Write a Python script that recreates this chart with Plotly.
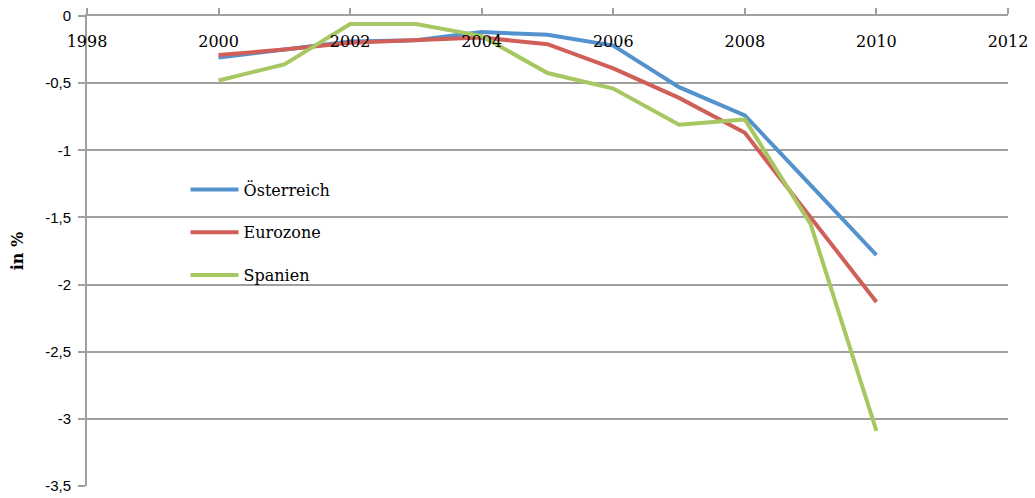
import plotly.graph_objects as go

# Jahreswerte 2000-2010
years = [2000, 2001, 2002, 2003, 2004, 2005, 2006, 2007, 2008, 2009, 2010]
oesterreich = [-0.31, -0.25, -0.19, -0.18, -0.12, -0.14, -0.22, -0.53, -0.74, -1.26, -1.78]
eurozone = [-0.29, -0.25, -0.20, -0.18, -0.16, -0.21, -0.39, -0.61, -0.87, -1.50, -2.13]
spanien = [-0.48, -0.36, -0.06, -0.06, -0.15, -0.425, -0.54, -0.81, -0.77, -1.55, -3.09]

series_names = ["Österreich", "Eurozone", "Spanien"]
series_values = [oesterreich, eurozone, spanien]
series_colors = ["#5492CD", "#D05F58", "#A6C761"]

x_ticks = [1998, 2000, 2002, 2004, 2006, 2008, 2010, 2012]
y_ticks = [0, -0.5, -1, -1.5, -2, -2.5, -3, -3.5]
y_tick_text = ["0", "-0,5", "-1", "-1,5", "-2", "-2,5", "-3", "-3,5"]

SERIF = "DejaVu Serif"
SANS = "Liberation Sans"
GRID = "#A0A0A0"

fig = go.Figure()
for i, (name, vals, col) in enumerate(zip(series_names, series_values, series_colors)):
    fig.add_trace(go.Scatter(
        x=years, y=vals, mode="lines", name=name,
        legendgroup=f"g{i}",
        # last series sits on the label axis (same range) so that axis is drawn
        xaxis="x2" if i == len(series_names) - 1 else "x",
        line=dict(color=col, width=4),
    ))

fig.update_layout(
    width=1035, height=498,
    margin=dict(l=87, r=27, t=16, b=12, autoexpand=False),
    paper_bgcolor="white", plot_bgcolor="white",
    showlegend=True,
    legend=dict(
        x=0.107, y=0.667, xanchor="left", yanchor="top",
        font=dict(family=SERIF, size=16, color="black"),
        tracegroupgap=19, itemwidth=48,
        bgcolor="rgba(0,0,0,0)",
    ),
    # axis line at y = 0 with upward tick marks
    xaxis=dict(
        range=[1998, 2012], side="top", automargin=False,
        tickvals=x_ticks,
        ticks="outside", ticklen=6, tickcolor=GRID, tickwidth=2,
        showticklabels=False,
        showgrid=False, zeroline=False,
        showline=True, linecolor=GRID, linewidth=2,
    ),
    # year labels just below the y = 0 line
    xaxis2=dict(
        range=[1998, 2012], matches="x", overlaying="x", anchor="free", position=0.971,
        side="bottom", automargin=False,
        tickvals=x_ticks, ticktext=[str(t) for t in x_ticks],
        ticks="", showline=False, showgrid=False, zeroline=False,
        tickfont=dict(family=SERIF, size=16, color="black"),
    ),
    yaxis=dict(
        range=[-3.5, 0], automargin=False,
        tickvals=y_ticks, ticktext=y_tick_text,
        ticks="outside", ticklen=7, tickcolor=GRID, tickwidth=2,
        ticklabelstandoff=4,
        tickfont=dict(family=SANS, size=15, color="black"),
        showgrid=True, gridcolor=GRID, gridwidth=2,
        zeroline=False,
        showline=True, linecolor=GRID, linewidth=2,
        title=dict(text="<b>in %</b>", font=dict(family=SERIF, size=16, color="black"), standoff=18),
    ),
)

fig.write_html("out.html")
